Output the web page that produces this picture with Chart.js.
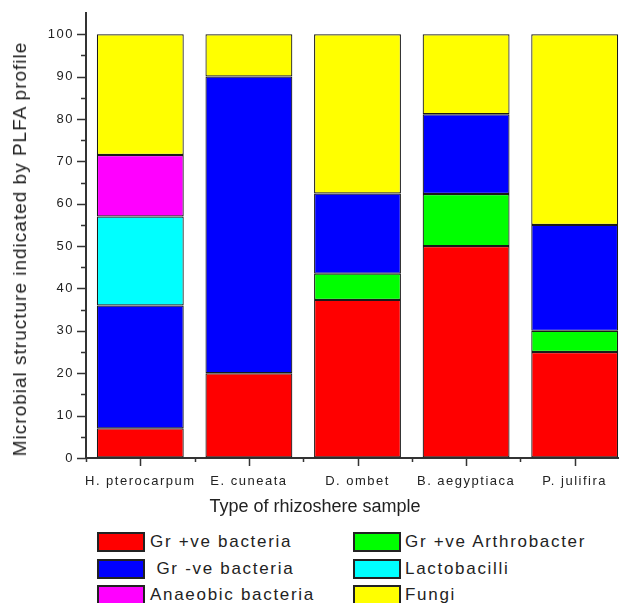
<!DOCTYPE html>
<html>
<head>
<meta charset="utf-8">
<script src="https://cdn.jsdelivr.net/npm/chart.js@4/dist/chart.umd.min.js"></script>
<style>
  html, body { margin: 0; padding: 0; background: #fff; overflow: hidden; }
  #wrap { position: relative; width: 630px; height: 603px; font-family: "Liberation Sans", Arial, sans-serif; color: #222; }
  #c { position: absolute; left: 0; top: 0; }
  .ytitle { position: absolute; left: 20px; top: 249px; transform: translate(-50%, -50%) rotate(-90deg); white-space: nowrap; font-size: 19px; letter-spacing: 1px; }
  .xtitle { position: absolute; left: 315px; top: 506px; transform: translate(-50%, -50%); white-space: nowrap; font-size: 18px; }
  .lbox { position: absolute; width: 44px; height: 16px; border: 2px solid #222; }
  .ltxt { position: absolute; font-size: 17px; letter-spacing: 1.7px; white-space: pre; line-height: 20px; }
</style>
</head>
<body>
<div id="wrap">
  <canvas id="c" width="630" height="525"></canvas>
  <div class="ytitle">Microbial structure indicated by PLFA profile</div>
  <div class="xtitle">Type of rhizoshere sample</div>
  <div id="legend"></div>
</div>
<script>
// ---- data ----
const categories = ['H. pterocarpum', 'E. cuneata', 'D. ombet', 'B. aegyptiaca', 'P. julifira'];
const grPositive   = [7,    20,   37.3, 50,   25];
const arthrobacter = [null, null, 6.2,  12.3, 5];
const grNegative   = [29,   70,   18.9, 18.8, 25];
const lactobacilli = [21,   null, null, null, null];
const anaerobic    = [14.5, null, null, null, null];
const fungi        = [28.5, 10,   37.6, 18.9, 45];
const yTickValues  = [0, 10, 20, 30, 40, 50, 60, 70, 80, 90, 100];

const seriesNames = ['Gr +ve bacteria', 'Gr +ve Arthrobacter', ' Gr -ve bacteria', 'Lactobacilli', 'Anaeobic bacteria', 'Fungi'];
const seriesData = [grPositive, arthrobacter, grNegative, lactobacilli, anaerobic, fungi];
const seriesColors = ['#FF0000', '#00FF00', '#0000FF', '#00FFFF', '#FF00FF', '#FFFF00'];

const datasets = seriesNames.map((n, i) => ({
  label: n,
  data: seriesData[i],
  backgroundColor: seriesColors[i],
  borderColor: '#1a1a1a',
  borderWidth: 1.2,
  borderSkipped: false,
  categoryPercentage: 0.8,
  barPercentage: 1.0
}));

const tickPlugin = {
  id: 'ticksAndSpacing',
  beforeDraw(chart) { chart.ctx.letterSpacing = '1.5px'; },
  afterDraw(chart) {
    const ctx = chart.ctx;
    ctx.letterSpacing = '0px';
    const ys = chart.scales.y, xs = chart.scales.x;
    ctx.save();
    ctx.strokeStyle = '#333';
    ctx.lineWidth = 1.5;
    ctx.beginPath();
    for (let v = 0; v <= 100; v += 5) {
      const py = Math.round(ys.getPixelForValue(v)) + 0.5;
      const len = (v % 10 === 0) ? 9 : 5;
      ctx.moveTo(ys.right - len, py);
      ctx.lineTo(ys.right, py);
    }
    for (let i = 0; i < categories.length; i++) {
      const px = Math.round(xs.getPixelForValue(i)) + 0.5;
      ctx.moveTo(px, xs.top);
      ctx.lineTo(px, xs.top + 8);
    }
    for (let i = 0; i <= categories.length; i++) {
      const px = Math.round(xs.getPixelForValue(i - 0.5)) + 0.5;
      ctx.moveTo(px, xs.top);
      ctx.lineTo(px, xs.top + 4);
    }
    ctx.stroke();
    ctx.restore();
  }
};

new Chart(document.getElementById('c'), {
  type: 'bar',
  data: { labels: categories, datasets },
  options: {
    responsive: false,
    animation: false,
    layout: { padding: { left: 0, right: 1, top: 13, bottom: 0 } },
    plugins: { legend: { display: false }, tooltip: { enabled: false } },
    scales: {
      x: {
        stacked: true,
        grid: { display: true, drawOnChartArea: false, drawTicks: false },
        border: { display: true, color: '#333', width: 2 },
        ticks: {
          autoSkip: false, maxRotation: 0, padding: 16,
          color: '#222', font: { family: 'Liberation Sans', size: 13 }
        },
        afterFit(scale) { scale.height = 67; scale.paddingLeft = 0; scale.paddingRight = 0; }
      },
      y: {
        stacked: true,
        min: 0, max: 105,
        grid: { display: true, drawOnChartArea: false, drawTicks: false },
        border: { display: true, color: '#333', width: 2 },
        ticks: {
          stepSize: 5, autoSkip: false, padding: 12,
          color: '#222', font: { family: 'Liberation Sans', size: 13 },
          callback: (v) => yTickValues.includes(v) ? String(v) : ''
        },
        afterFit(scale) { scale.width = 86; scale.paddingTop = 0; scale.paddingBottom = 0; }
      }
    }
  },
  plugins: [tickPlugin]
});

// ---- HTML legend (two columns) ----
const legend = document.getElementById('legend');
const colX = [{ box: 97, txt: 150 }, { box: 353, txt: 405 }];
const rowTop = [532, 558.5, 585];
seriesNames.forEach((n, i) => {
  const col = colX[i % 2], top = rowTop[Math.floor(i / 2)];
  const b = document.createElement('div');
  b.className = 'lbox';
  b.style.left = col.box + 'px'; b.style.top = top + 'px';
  b.style.background = seriesColors[i];
  legend.appendChild(b);
  const t = document.createElement('div');
  t.className = 'ltxt';
  t.style.left = col.txt + 'px'; t.style.top = (top + 0) + 'px';
  t.textContent = n;
  legend.appendChild(t);
});
</script>
</body>
</html>
